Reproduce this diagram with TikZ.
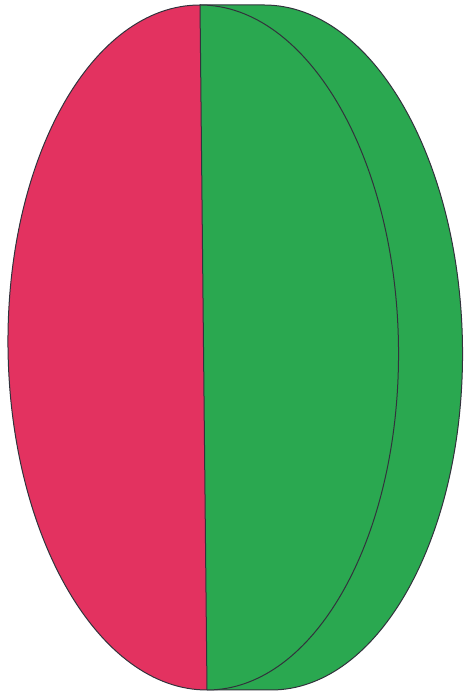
\documentclass[tikz,border=0pt]{standalone}
\definecolor{redhalf}{RGB}{227,50,96}
\definecolor{greenhalf}{RGB}{42,168,80}
\definecolor{edge}{RGB}{50,50,60}
\begin{document}
\begin{tikzpicture}[x=1pt,y=1pt,
  outline/.style={draw=edge,line width=1pt,line join=round}]
\useasboundingbox (0,0) rectangle (463,695);
\begin{scope}[shift={(203.5,347.5)},xslant=-0.0102]
  % outer (back) green face
  \fill[greenhalf] (0,342.5) -- (64,342.5)
     arc[start angle=90,end angle=-90,x radius=195,y radius=342.5]
     -- (0,-342.5) -- cycle;
  \draw[outline] (0,342.5) -- (64,342.5)
     arc[start angle=90,end angle=-90,x radius=195,y radius=342.5]
     -- (0,-342.5);
  % inner right green half
  \fill[greenhalf] (0,342.5)
     arc[start angle=90,end angle=-90,x radius=195,y radius=342.5] -- cycle;
  \draw[outline] (0,342.5)
     arc[start angle=90,end angle=-90,x radius=195,y radius=342.5];
  % left red half
  \fill[redhalf] (0,342.5)
     arc[start angle=90,end angle=270,x radius=195.5,y radius=342.5] -- cycle;
  \draw[outline] (0,342.5)
     arc[start angle=90,end angle=270,x radius=195.5,y radius=342.5] -- cycle;
\end{scope}
\end{tikzpicture}
\end{document}
